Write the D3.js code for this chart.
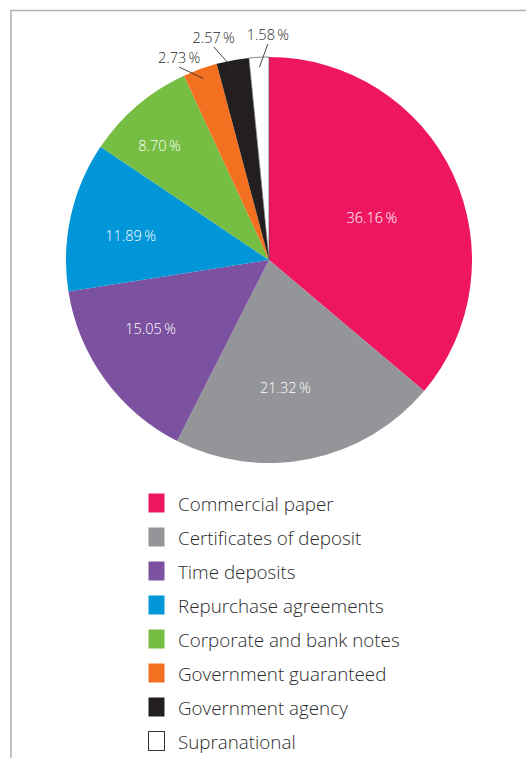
<!DOCTYPE html>
<html>
<head>
<meta charset="utf-8">
<script src="https://cdn.jsdelivr.net/npm/d3@7"></script>
<style>
  html, body { margin: 0; padding: 0; background: #fff; }
  svg { display: block; }
  text { font-family: "Open Sans", "Noto Sans", sans-serif; font-weight: 300; }
</style>
</head>
<body>
<svg id="chart" width="526" height="758"></svg>
<script>
// Portfolio composition by instrument type (%)
const categories = [
  "Commercial paper",
  "Certificates of deposit",
  "Time deposits",
  "Repurchase agreements",
  "Corporate and bank notes",
  "Government guaranteed",
  "Government agency",
  "Supranational"
];
const shares = [36.16, 21.32, 15.05, 11.89, 8.70, 2.73, 2.57, 1.58];
const sliceColors = ["#ee1660", "#939598", "#7b51a0", "#0096d8", "#76be43", "#f37021", "#231f20", "#ffffff"];

// Label placement around the pie: polar [angle in degrees clockwise from 12 o'clock, radius in px]
const labelPolar = [
  [67.8, 111], [172.7, 129], [239.8, 137], [280, 140.5], [316.1, 158],
  [336, 221], [346, 229], [359.7, 225]
];
const outsideLabel = [false, false, false, false, false, true, true, true];

const svg = d3.select("#chart");
const cx = 269, cy = 260, R = 203;

// Frame lines (top and left)
svg.append("path")
  .attr("d", d3.line()([[11, 758], [11, 10.5], [526, 10.5]]))
  .attr("fill", "none")
  .attr("stroke", "#b0b0b0")
  .attr("stroke-width", 1.5);

const data = categories.map((c, i) => ({ name: c, value: shares[i], color: sliceColors[i], i }));

const pie = d3.pie().sort(null).value(d => d.value);
const arcs = pie(data);
const arc = d3.arc().innerRadius(0).outerRadius(R);

const g = svg.append("g").attr("transform", `translate(${cx},${cy})`);

g.selectAll("path.slice")
  .data(arcs)
  .join("path")
  .attr("class", "slice")
  .attr("d", arc)
  .attr("fill", d => d.data.color)
  .attr("stroke", d => d.data.color === "#ffffff" ? "#555" : "none")
  .attr("stroke-width", 0.7);

const polar = (deg, r) => {
  const a = deg * Math.PI / 180;
  return [r * Math.sin(a), -r * Math.cos(a)];
};
const fmt = v => d3.format(".2f")(v) + "\u2009%";

arcs.forEach((d, i) => {
  const [lx, ly] = polar(labelPolar[i][0], labelPolar[i][1]);
  const outside = outsideLabel[i];
  g.append("text")
    .attr("x", lx)
    .attr("y", ly + 5)
    .attr("text-anchor", "middle")
    .attr("font-size", 14.5)
    .attr("fill", outside ? "#2b2b2b" : "#fff")
    .text(fmt(d.data.value));
  if (outside) {
    const mid = (d.startAngle + d.endAngle) / 2;
    const inner = [ (R - 10) * Math.sin(mid), -(R - 10) * Math.cos(mid) ];
    g.append("line")
      .attr("x1", lx).attr("y1", ly + 9)
      .attr("x2", inner[0]).attr("y2", inner[1])
      .attr("stroke", "#333")
      .attr("stroke-width", 0.9);
  }
});

// Legend
const legend = svg.append("g").attr("transform", "translate(148,493)");
const rowH = 34;
const rows = legend.selectAll("g.row")
  .data(data)
  .join("g")
  .attr("class", "row")
  .attr("transform", (d, i) => `translate(0,${i * rowH})`);

rows.append("rect")
  .attr("x", 0.5).attr("y", 0.5)
  .attr("width", 16).attr("height", 19)
  .attr("fill", d => d.color)
  .attr("stroke", d => d.color === "#ffffff" ? "#333" : "none")
  .attr("stroke-width", 1);

rows.append("text")
  .attr("x", 30)
  .attr("y", 17.5)
  .attr("font-size", 18.8)
  .attr("fill", "#2b2b2b")
  .text(d => d.name);
</script>
</body>
</html>
